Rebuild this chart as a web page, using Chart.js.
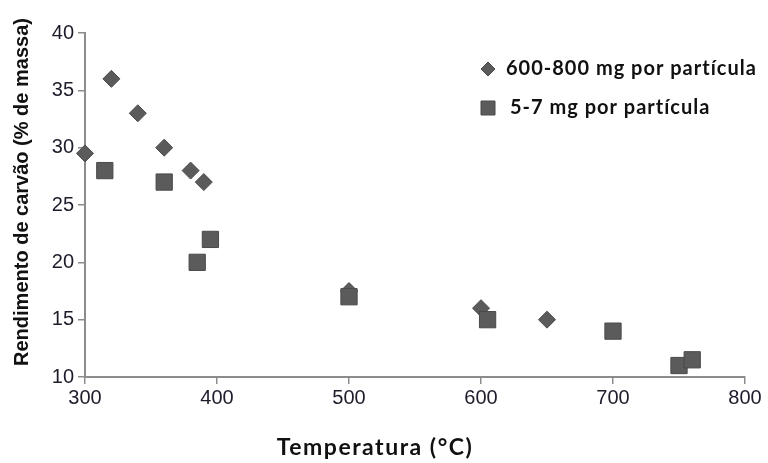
<!DOCTYPE html>
<html>
<head>
<meta charset="utf-8">
<script src="https://cdn.jsdelivr.net/npm/chart.js@4"></script>
<style>
  html, body { margin: 0; padding: 0; background: #fff; }
  #wrap { width: 768px; height: 463px; }
</style>
</head>
<body>
<div id="wrap"><canvas id="myChart" width="768" height="463"></canvas></div>
<script>
// 600-800 mg por partícula (losangos)
const bigTemps = [300, 320, 340, 360, 380, 390, 500, 600, 650];
const bigYield = [29.5, 36, 33, 30, 28, 27, 17.5, 16, 15];
// 5-7 mg por partícula (quadrados)
const smallTemps = [315, 360, 385, 395, 500, 605, 700, 750, 760];
const smallYield = [28, 27, 20, 22, 17, 15, 14, 11, 11.5];

const xTicks = [300, 400, 500, 600, 700, 800];
const yTicks = [10, 15, 20, 25, 30, 35, 40];
const seriesNames = ['600-800 mg por partícula', '5-7 mg por partícula'];
const xTitle = 'Temperatura (°C)';
const yTitle = 'Rendimento de carvão (% de massa)';

const toPoints = (xs, ys) => xs.map((x, i) => ({ x: x, y: ys[i] }));

const fillGray = '#5b5b5b';
const edgeGray = '#4a4a4a';
const axisGray = '#8c8c8c';

// legend and axis titles drawn by hand, the original has them off-centre
const extras = {
    id: 'extras',
    afterDraw(chart) {
        const c = chart.ctx;
        const area = chart.chartArea;
        c.save();

        // legend
        const x0 = area.left + 403;
        const rows = [area.top + 36, area.top + 75];
        c.font = 'bold 20px Lato, "Open Sans", sans-serif';
        c.letterSpacing = '1px';
        c.textBaseline = 'middle';
        chart.data.datasets.forEach((ds, i) => {
            const y = rows[i];
            c.fillStyle = ds.backgroundColor;
            c.strokeStyle = ds.borderColor;
            c.lineWidth = 1;
            c.beginPath();
            if (ds.pointStyle === 'rectRot') {
                c.moveTo(x0, y - 7); c.lineTo(x0 + 7, y); c.lineTo(x0, y + 7); c.lineTo(x0 - 7, y);
            } else {
                c.rect(x0 - 7, y - 7, 14, 14);
            }
            c.closePath(); c.fill(); c.stroke();
            c.fillStyle = '#111';
            c.fillText(ds.label, x0 + (i === 0 ? 18 : 22), y);
        });

        // x title
        c.font = 'bold 23px Lato, "Open Sans", sans-serif';
        c.letterSpacing = '1.5px';
        c.textAlign = 'center';
        c.fillText(xTitle, area.left + 290, 448);

        // y title
        c.letterSpacing = '0px';
        c.font = 'bold 20px "Liberation Sans", Arial, sans-serif';
        c.translate(22, area.top + 159);
        c.rotate(-Math.PI / 2);
        c.fillText(yTitle, 0, 0);

        c.restore();
    }
};

new Chart(document.getElementById('myChart'), {
    type: 'scatter',
    data: {
        datasets: [
            {
                label: seriesNames[0],
                data: toPoints(bigTemps, bigYield),
                pointStyle: 'rectRot',
                pointRadius: 8.5,
                backgroundColor: fillGray,
                borderColor: edgeGray,
                borderWidth: 1,
                clip: false,
                order: 1,
            },
            {
                label: seriesNames[1],
                data: toPoints(smallTemps, smallYield),
                pointStyle: 'rect',
                pointRadius: 11.5,
                backgroundColor: fillGray,
                borderColor: edgeGray,
                borderWidth: 1,
                clip: false,
                order: 0,
            }
        ]
    },
    options: {
        responsive: false,
        animation: false,
        layout: { padding: { top: 33, right: 23, left: 0, bottom: 0 } },
        plugins: {
            legend: { display: false },
            tooltip: { enabled: false }
        },
        scales: {
            x: {
                type: 'linear',
                min: 300,
                max: 800,
                afterBuildTicks: s => { s.ticks = xTicks.map(v => ({ value: v })); },
                afterFit: s => { s.height = 86; },
                border: { color: axisGray, width: 2 },
                grid: { drawOnChartArea: false, color: axisGray, tickLength: 7, lineWidth: 1.5 },
                ticks: {
                    color: '#1c1c2a',
                    font: { family: '"Liberation Sans", Arial, sans-serif', size: 20 },
                    padding: 2
                }
            },
            y: {
                type: 'linear',
                min: 10,
                max: 40,
                afterBuildTicks: s => { s.ticks = yTicks.map(v => ({ value: v })); },
                afterFit: s => { s.width = 85; },
                border: { color: axisGray, width: 2 },
                grid: { drawOnChartArea: false, color: axisGray, tickLength: 7, lineWidth: 1.5 },
                ticks: {
                    color: '#1c1c2a',
                    font: { family: '"Liberation Sans", Arial, sans-serif', size: 20 },
                    padding: 4
                }
            }
        }
    },
    plugins: [extras]
});
</script>
</body>
</html>
